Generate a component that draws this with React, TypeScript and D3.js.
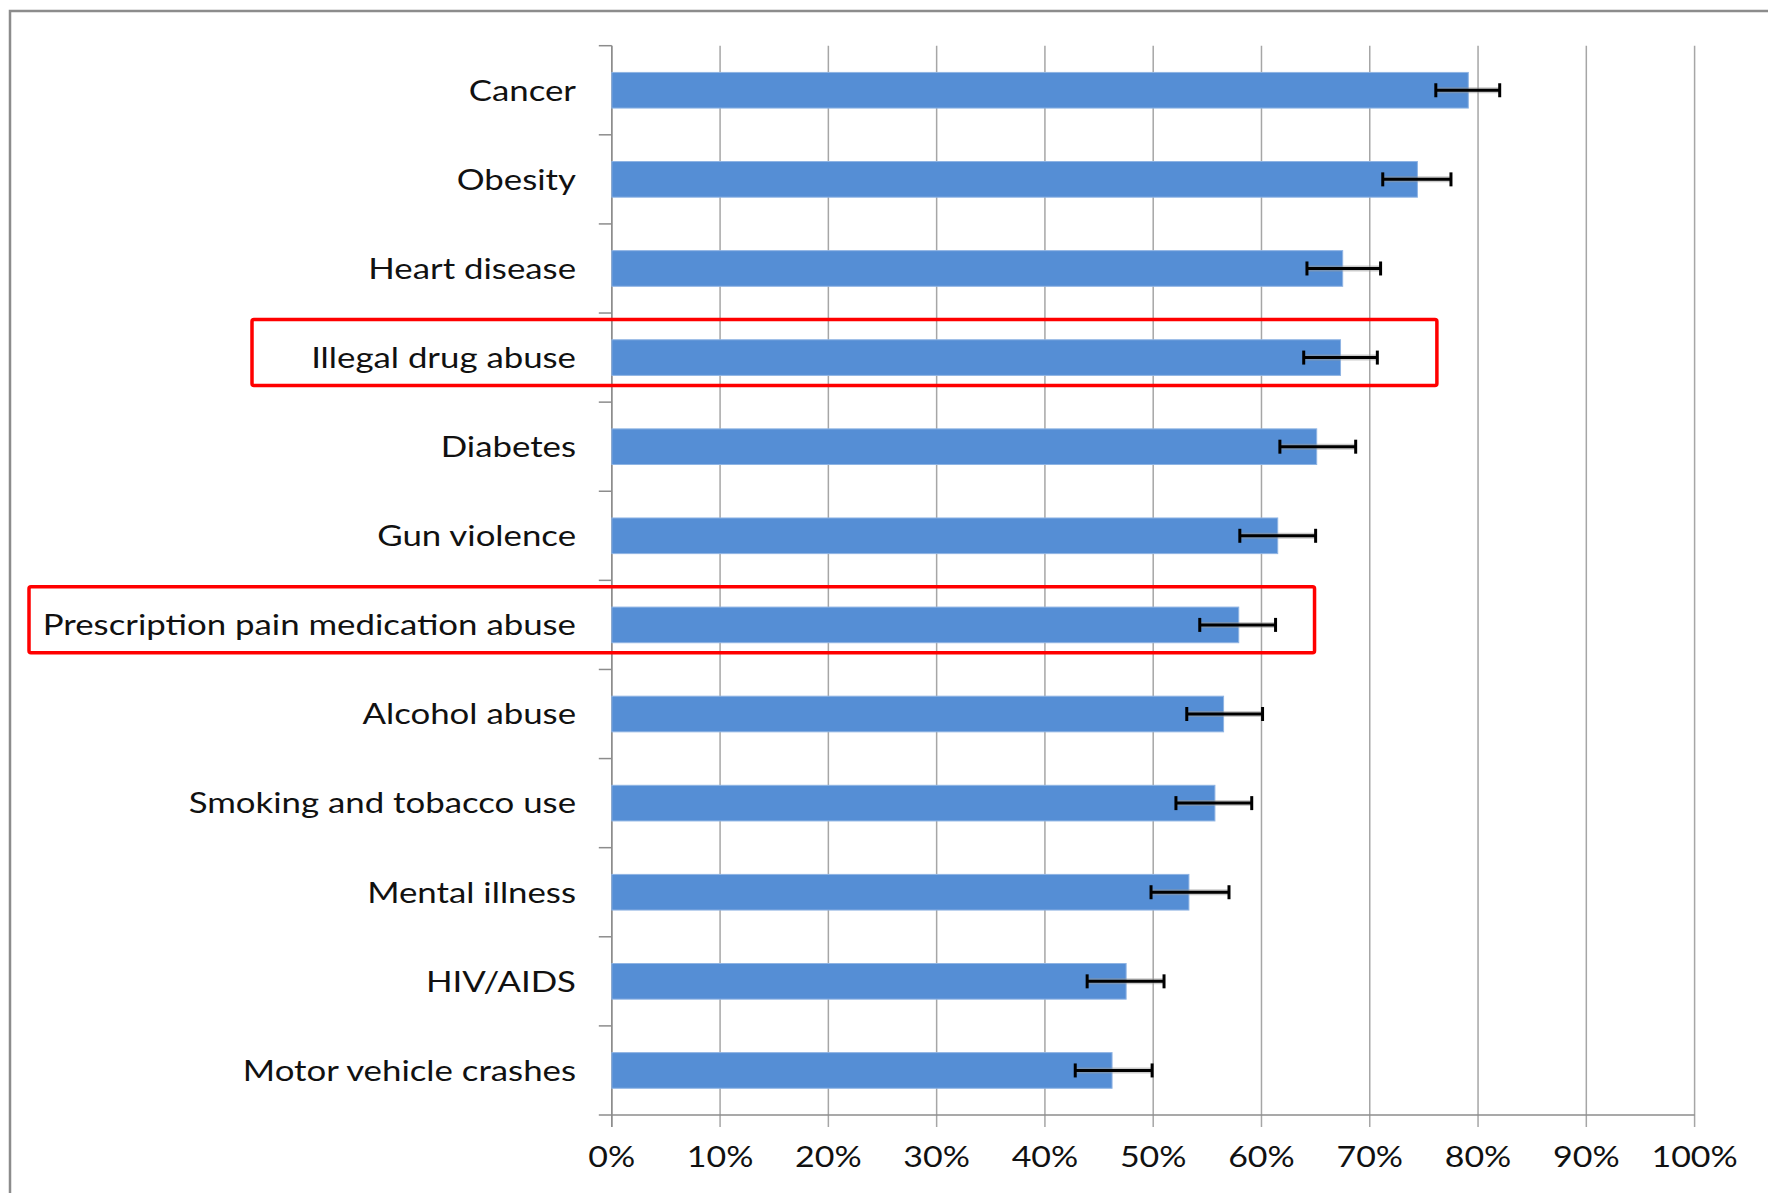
import React from 'react';
import * as d3 from 'd3';

const categories = [
  'Cancer',
  'Obesity',
  'Heart disease',
  'Illegal drug abuse',
  'Diabetes',
  'Gun violence',
  'Prescription pain medication abuse',
  'Alcohol abuse',
  'Smoking and tobacco use',
  'Mental illness',
  'HIV/AIDS',
  'Motor vehicle crashes',
];
const values = [79.1, 74.4, 67.5, 67.3, 65.1, 61.5, 57.9, 56.5, 55.7, 53.3, 47.5, 46.2];
const errLow = [76.1, 71.2, 64.2, 63.9, 61.7, 58.0, 54.3, 53.1, 52.1, 49.8, 43.9, 42.8];
const errHigh = [82.0, 77.5, 71.0, 70.7, 68.7, 65.0, 61.3, 60.1, 59.1, 57.0, 51.0, 49.9];
const tickValues = [0, 10, 20, 30, 40, 50, 60, 70, 80, 90, 100];
// highlighted rows and where the red box ends (in %)
const highlights = [
  { category: 'Illegal drug abuse', end: 76.2, left: 252 },
  { category: 'Prescription pain medication abuse', end: 64.9, left: 29 },
];

const width = 1768;
const height = 1193;
const font = 'Lato, "Open Sans", sans-serif';

const App: React.FC = () => {
  const x = d3.scaleLinear().domain([0, 100]).range([611.8, 1694.6]);
  const y = d3.scaleBand<string>()
    .domain(categories)
    .range([45.7, 1115])
    .paddingInner(0.6)
    .paddingOuter(0.3);
  const bw = y.bandwidth();
  const off = (y.step() - bw) / 2;
  const top = y.range()[0];
  const bottom = y.range()[1];
  const boundaries = d3.range(categories.length + 1).map((i) => top + i * y.step());

  return (
    <svg width={width} height={height} style={{ position: 'absolute', left: 0, top: 0 }}>
      <rect x={0} y={0} width={width} height={height} fill="#fff" />
      <rect x={10} y={11} width={1900} height={1400} fill="none" stroke="#8c8c8c" strokeWidth={2.5} />

      {/* gridlines */}
      {tickValues.map((t) => (
        <line key={t} x1={x(t)} x2={x(t)} y1={top} y2={bottom + 12} stroke="#a6a6a6" strokeWidth={1.5} />
      ))}

      {/* y axis + category ticks */}
      <line x1={x(0)} x2={x(0)} y1={top} y2={bottom + 12} stroke="#8c8c8c" strokeWidth={1.5} />
      {boundaries.map((b, i) => (
        <line key={i} x1={x(0) - 13} x2={x(0)} y1={b} y2={b} stroke="#8c8c8c" strokeWidth={1.5} />
      ))}
      <line x1={x(0)} x2={x(100)} y1={bottom} y2={bottom} stroke="#8c8c8c" strokeWidth={1.5} />

      {/* bars */}
      {categories.map((c, i) => (
        <rect key={c} x={x(0)} y={y(c)} width={x(values[i]) - x(0)} height={bw}
          fill="#558ed5" stroke="#8fb4e3" strokeWidth={1} />
      ))}

      {/* error bars */}
      {categories.map((c, i) => {
        const cy = (y(c) as number) + bw / 2;
        return (
          <g key={c} stroke="#000" strokeWidth={3}>
            <line x1={x(errLow[i])} x2={x(errHigh[i])} y1={cy} y2={cy} stroke="#9a9a9a" strokeWidth={6} opacity={0.5} />
            <line x1={x(errLow[i])} x2={x(errHigh[i])} y1={cy} y2={cy} />
            <line x1={x(errLow[i])} x2={x(errLow[i])} y1={cy - 7} y2={cy + 7} />
            <line x1={x(errHigh[i])} x2={x(errHigh[i])} y1={cy - 7} y2={cy + 7} />
          </g>
        );
      })}

      {/* category labels */}
      {categories.map((c) => (
        <g key={c} transform={`translate(576,${(y(c) as number) + bw / 2 - 1}) scale(1.2,1)`}>
          <text x={0} y={0} textAnchor="end" dominantBaseline="central"
            fontFamily={font} fontSize={29} fill="#111">{c}</text>
        </g>
      ))}

      {/* x tick labels */}
      {tickValues.map((t) => (
        <g key={t} transform={`translate(${x(t)},1156) scale(1.17,1)`}>
          <text x={0} y={0} textAnchor="middle" dominantBaseline="central"
            fontFamily={font} fontSize={29} fill="#111">{t}%</text>
        </g>
      ))}

      {/* highlight boxes */}
      {highlights.map((h) => {
        const by = (y(h.category) as number) - off + 6.5;
        return (
          <rect key={h.category} x={h.left} y={by} width={x(h.end) - h.left} height={66}
            fill="none" stroke="#ff0000" strokeWidth={3.5} rx={2} />
        );
      })}
    </svg>
  );
};

export default App;
